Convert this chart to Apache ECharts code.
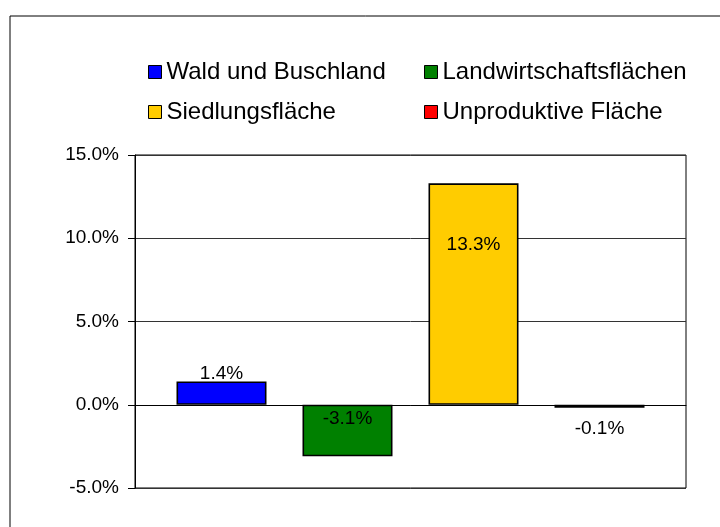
<!DOCTYPE html>
<html>
<head>
<meta charset="utf-8">
<title>Flächenveränderung</title>
<script src="https://cdn.jsdelivr.net/npm/echarts@6/dist/echarts.min.js"></script>
<style>
  html, body { margin: 0; padding: 0; background: #fff; }
  #chart { width: 720px; height: 527px; }
</style>
</head>
<body>
<div id="chart"></div>
<script>
// values (percent change)
const seriesNames = ['Wald und Buschland', 'Landwirtschaftsflächen', 'Siedlungsfläche', 'Unproduktive Fläche'];
const seriesValues = [1.4, -3.1, 13.3, -0.1];
const seriesColors = ['#0000ff', '#008000', '#ffcc00', '#ff0000'];
const categories = [''];
const yTicks = { min: -5, max: 15, interval: 5 };

// where each data label sits (matches the reference)
const labelPos = [
  { position: 'top', distance: -2 },
  { position: 'insideTop', distance: 5 },
  { position: 'insideTop', distance: 52 },
  { position: 'bottom', distance: 12 },
];

const font = 'Liberation Sans, Arial, sans-serif';
const chart = echarts.init(document.getElementById('chart'), null, { renderer: 'canvas' });

const series = seriesNames.map((name, i) => ({
  name,
  type: 'bar',
  data: [seriesValues[i]],
  barWidth: 90,
  barGap: '40%',
  barMinHeight: 3,
  itemStyle: { color: seriesColors[i], borderColor: '#000', borderWidth: 1.6 },
  label: {
    show: true,
    position: labelPos[i].position,
    distance: labelPos[i].distance,
    formatter: (p) => p.value.toFixed(1) + '%',
    color: '#000',
    fontFamily: font,
    fontSize: 19,
  },
  emphasis: { disabled: true },
  animation: false,
}));

const legendBase = {
  orient: 'vertical',
  itemWidth: 13,
  itemHeight: 13,
  itemGap: 16,
  icon: 'rect',
  selectedMode: false,
  textStyle: { fontFamily: font, fontSize: 24, color: '#000', lineHeight: 24 },
  itemStyle: { borderColor: '#000', borderWidth: 1 },
};

chart.setOption({
  backgroundColor: '#fff',
  animation: false,
  graphic: [{
    type: 'rect',
    shape: { x: 10, y: 16, width: 800, height: 600 },
    style: { fill: 'none', stroke: '#000', lineWidth: 1 },
    silent: true,
  }],
  legend: [
    Object.assign({}, legendBase, { left: 143, top: 55, data: [seriesNames[0], seriesNames[2]] }),
    Object.assign({}, legendBase, { left: 419, top: 55, data: [seriesNames[1], seriesNames[3]] }),
  ],
  grid: {
    left: 135, top: 155, width: 551, height: 333,
    show: true, borderColor: '#000', borderWidth: 1, backgroundColor: '#fff',
  },
  xAxis: {
    type: 'category',
    data: categories,
    axisLine: { show: true, lineStyle: { color: '#000', width: 1 } },
    axisTick: { show: false },
    axisLabel: { show: false },
  },
  yAxis: {
    type: 'value',
    min: yTicks.min,
    max: yTicks.max,
    interval: yTicks.interval,
    axisLine: { show: true, onZero: false, lineStyle: { color: '#000' } },
    axisTick: { show: true, length: 7, lineStyle: { color: '#000' } },
    axisLabel: {
      margin: 16,
      color: '#000',
      fontFamily: font,
      fontSize: 19,
      formatter: (v) => v.toFixed(1) + '%',
    },
    splitLine: { show: true, lineStyle: { color: '#333', width: 1 } },
  },
  series,
});
</script>
</body>
</html>
